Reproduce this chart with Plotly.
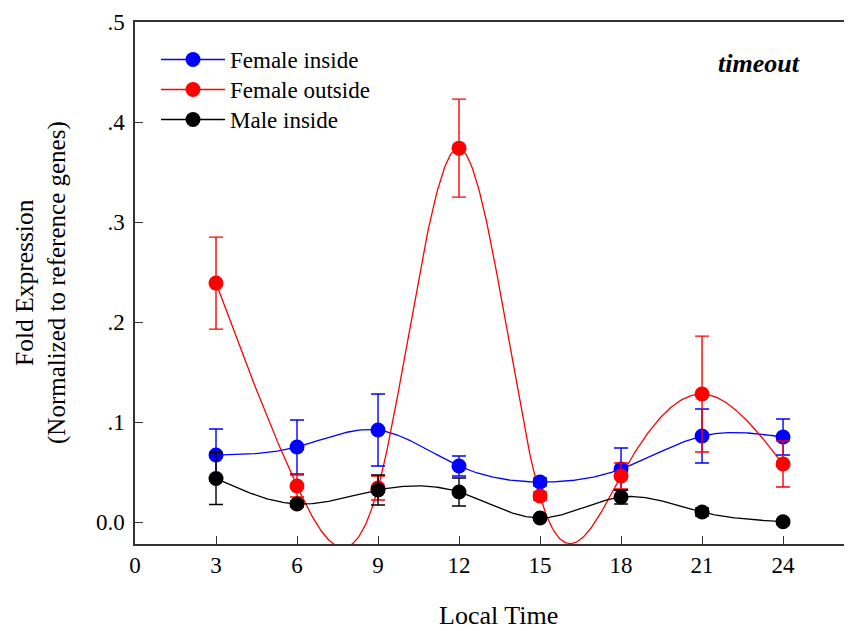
import numpy as np
import plotly.graph_objects as go

# ---- data ----
time_h = [3, 6, 9, 12, 15, 18, 21, 24]
female_inside = [0.067, 0.075, 0.092, 0.056, 0.040, 0.053, 0.086, 0.085]
female_inside_err = [0.026, 0.027, 0.036, 0.010, 0.004, 0.021, 0.027, 0.018]
female_outside = [0.239, 0.036, 0.034, 0.374, 0.026, 0.046, 0.128, 0.058]
female_outside_err = [0.046, 0.011, 0.012, 0.049, 0.004, 0.013, 0.058, 0.023]
male_inside = [0.0435, 0.018, 0.032, 0.030, 0.004, 0.025, 0.010, 0.0003]
male_inside_err = [0.026, 0.003, 0.015, 0.014, 0.002, 0.007, 0.004, 0.001]

y_tickvals = [0.0, 0.1, 0.2, 0.3, 0.4, 0.5]
y_ticktext = ["0.0", ".1", ".2", ".3", ".4", ".5"]
x_tickvals = [0, 3, 6, 9, 12, 15, 18, 21, 24]

series = [
    ("Female inside", female_inside, female_inside_err, "#0000ff"),
    ("Female outside", female_outside, female_outside_err, "#ff0000"),
    ("Male inside", male_inside, male_inside_err, "#000000"),
]


def natural_spline(x, y, n=500):
    x = np.asarray(x, float)
    y = np.asarray(y, float)
    k = len(x)
    h = np.diff(x)
    A = np.zeros((k, k))
    b = np.zeros(k)
    A[0, 0] = 1
    A[-1, -1] = 1
    for i in range(1, k - 1):
        A[i, i - 1] = h[i - 1]
        A[i, i] = 2 * (h[i - 1] + h[i])
        A[i, i + 1] = h[i]
        b[i] = 6 * ((y[i + 1] - y[i]) / h[i] - (y[i] - y[i - 1]) / h[i - 1])
    M = np.linalg.solve(A, b)
    xs = np.linspace(x[0], x[-1], n)
    ys = np.empty_like(xs)
    for j, t in enumerate(xs):
        i = min(np.searchsorted(x, t, side="right") - 1, k - 2)
        i = max(i, 0)
        a, c = x[i], x[i + 1]
        hh = c - a
        ys[j] = (M[i] * (c - t) ** 3 / (6 * hh) + M[i + 1] * (t - a) ** 3 / (6 * hh)
                 + (y[i] / hh - M[i] * hh / 6) * (c - t)
                 + (y[i + 1] / hh - M[i + 1] * hh / 6) * (t - a))
    return xs, ys


# plot area in figure pixels (page body has an 8px offset)
L, T, W, H = 127, 14, 725, 522


def px(xw):
    return (xw - 8 - L) / W


def py(yw):
    return 1 - (yw - 8 - T) / H


fig = go.Figure()
for name, vals, errs, col in series:
    xs, ys = natural_spline(time_h, vals)
    fig.add_trace(go.Scatter(x=xs, y=ys, mode="lines", line=dict(color=col, width=1.3),
                             showlegend=False, hoverinfo="skip"))
for name, vals, errs, col in series:
    fig.add_trace(go.Scatter(
        x=time_h, y=vals, mode="markers", showlegend=False,
        marker=dict(color=col, size=15),
        error_y=dict(type="data", array=errs, visible=True, color=col, thickness=1.4, width=7),
    ))
legend_names = ["legend", "legend2", "legend3"]
for (name, vals, errs, col), lg in zip(series, legend_names):
    fig.add_trace(go.Scatter(x=[None], y=[None], mode="lines+markers", name=name, legend=lg,
                             line=dict(color=col, width=1.5), marker=dict(color=col, size=15)))

serif = "Liberation Serif"
ann_common = dict(xref="paper", yref="paper", showarrow=False, xanchor="center", yanchor="middle")
fig.add_annotation(text="<b><i>timeout</i></b>", x=px(759), y=py(63),
                   font=dict(family=serif, size=26, color="black"), **ann_common)
fig.add_annotation(text="Fold Expression", x=px(24), y=py(283), textangle=-90,
                   font=dict(family=serif, size=25.5, color="black"), **ann_common)
fig.add_annotation(text="(Normalized to reference genes)", x=px(57), y=py(283), textangle=-90,
                   font=dict(family=serif, size=25, color="black"), **ann_common)
fig.add_annotation(text="Local Time", x=px(498), y=py(615),
                   font=dict(family=serif, size=26, color="black"), **ann_common)

leg_common = dict(xanchor="left", yanchor="top", itemwidth=64,
                  bgcolor="rgba(0,0,0,0)", font=dict(size=23))
row_y = [60, 90, 120]
fig.update_layout(
    width=852, height=631,
    margin=dict(l=L, r=0, t=T, b=631 - T - H),
    paper_bgcolor="white", plot_bgcolor="white",
    font=dict(family=serif, size=23, color="black"),
    showlegend=True,
    legend=dict(x=px(156), y=py(row_y[0] - 22), **leg_common),
    legend2=dict(x=px(156), y=py(row_y[1] - 22), **leg_common),
    legend3=dict(x=px(156), y=py(row_y[2] - 22), **leg_common),
    xaxis=dict(range=[0, 26.85], tickvals=x_tickvals, ticks="inside", ticklen=8,
               tickcolor="#333", linecolor="#333", linewidth=1.5, mirror=True,
               showgrid=False, zeroline=False, tickfont=dict(size=23)),
    yaxis=dict(range=[-0.022, 0.5002], tickvals=y_tickvals, ticktext=y_ticktext,
               ticks="inside", ticklen=8, tickcolor="#333", linecolor="#333", linewidth=1.5,
               showgrid=False, zeroline=False, tickfont=dict(size=23), ticklabelstandoff=4),
)
fig.write_html("out.html")
